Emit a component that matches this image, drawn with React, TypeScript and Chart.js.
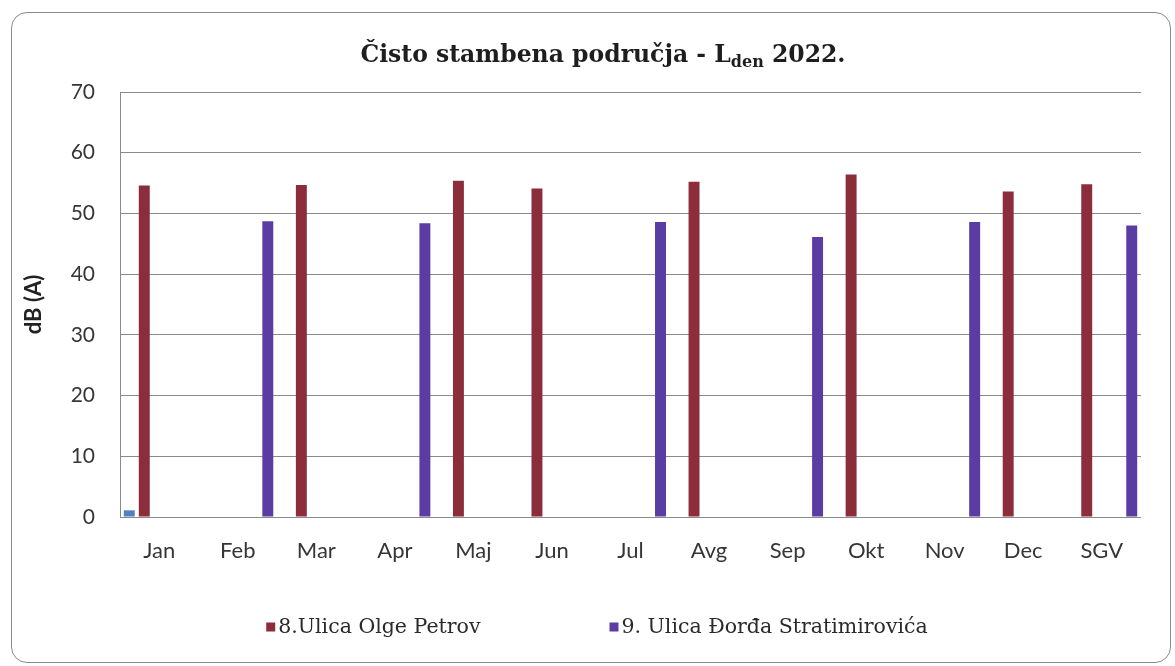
import React, { useEffect, useRef } from 'react';
import { Chart, registerables } from 'chart.js';

Chart.register(...registerables);

// ---- data ----
const categories = ['Jan', 'Feb', 'Mar', 'Apr', 'Maj', 'Jun', 'Jul', 'Avg', 'Sep', 'Okt', 'Nov', 'Dec', 'SGV'];
const series1Values = [1.1, null, null, null, null, null, null, null, null, null, null, null, null];
const olgePetrovValues = [54.6, null, 54.7, null, 55.4, 54.1, null, 55.2, null, 56.4, null, 53.6, 54.8];
const stratimirovicaValues = [null, 48.7, null, 48.4, null, null, 48.6, null, 46.1, null, 48.6, null, 48.0];
const emptyValues: (number | null)[] = [];
const seriesNames = ['8.Ulica Olge Petrov', '9. Ulica Đorđa Stratimirovića'];
const yTickMin = 0;
const yTickMax = 70;
const yTickStep = 10;
const titleMain = 'Čisto stambena područja - L';
const titleSub = 'den';
const titleEnd = ' 2022.';
const yAxisTitle = 'dB (A)';

// ---- styles ----
const RED = '#8c2d3c';
const BLUE = '#5a3ca3';
const LIGHT_BLUE = '#4f81bd';
const GRID = '#8a8a8a';
const TEXT = '#363636';

const titlePlugin = {
  id: 'titleWithSubscript',
  afterDraw(chart: any) {
    const ctx = chart.ctx;
    ctx.save();
    const mainFont = 'bold 23.5px "DejaVu Serif"';
    const subFont = 'bold 16px "DejaVu Serif"';
    ctx.font = mainFont;
    const w1 = ctx.measureText(titleMain).width;
    const w3 = ctx.measureText(titleEnd).width;
    ctx.font = subFont;
    const w2 = ctx.measureText(titleSub).width;
    const total = w1 + w2 + w3;
    let x = chart.width / 2 + 12 - total / 2;
    const y = 49;
    ctx.fillStyle = '#1e1e1e';
    ctx.textAlign = 'left';
    ctx.textBaseline = 'alphabetic';
    ctx.font = mainFont;
    ctx.fillText(titleMain, x, y);
    x += w1;
    ctx.font = subFont;
    ctx.fillText(titleSub, x, y + 5);
    x += w2;
    ctx.font = mainFont;
    ctx.fillText(titleEnd, x, y);
    ctx.restore();
  },
};

const legendPlugin = {
  id: 'spreadLegend',
  afterDraw(chart: any) {
    const ctx = chart.ctx;
    const items = chart.data.datasets.filter((d: any) => seriesNames.includes(d.label));
    ctx.save();
    ctx.font = '20.5px "DejaVu Serif"';
    const box = 9;
    const boxGap = 3;
    const itemGap = 129;
    const widths = items.map((d: any) => box + boxGap + ctx.measureText(d.label).width);
    const total = widths.reduce((a: number, b: number) => a + b, 0) + itemGap * (items.length - 1);
    let x = chart.width / 2 + 6 - total / 2;
    const y = 614;
    ctx.textAlign = 'left';
    ctx.textBaseline = 'middle';
    items.forEach((d: any, i: number) => {
      ctx.fillStyle = d.backgroundColor;
      ctx.fillRect(x, y - box / 2, box, box);
      ctx.fillStyle = '#2a2a2a';
      ctx.fillText(d.label, x + box + boxGap, y + 1);
      x += widths[i] + itemGap;
    });
    ctx.restore();
  },
};

export default function App() {
  const canvasRef = useRef<HTMLCanvasElement | null>(null);

  useEffect(() => {
    if (!canvasRef.current) return;
    const chart = new Chart(canvasRef.current, {
      type: 'bar',
      data: {
        labels: categories,
        datasets: [
          { label: 'Series 1', data: series1Values, backgroundColor: LIGHT_BLUE },
          { label: seriesNames[0], data: olgePetrovValues, backgroundColor: RED },
          { label: 'spacer-a', data: emptyValues, backgroundColor: 'rgba(0,0,0,0)' },
          { label: 'spacer-b', data: emptyValues, backgroundColor: 'rgba(0,0,0,0)' },
          { label: seriesNames[1], data: stratimirovicaValues, backgroundColor: BLUE },
        ],
      },
      options: {
        animation: false,
        responsive: true,
        maintainAspectRatio: false,
        layout: { padding: { top: 79, right: 29, bottom: 0, left: 0 } },
        datasets: {
          bar: { categoryPercentage: 0.955, barPercentage: 0.73 },
        },
        plugins: {
          legend: { display: false },
          title: { display: false },
          tooltip: { enabled: false },
        },
        scales: {
          x: {
            grid: { display: false, drawTicks: false },
            border: { display: false },
            ticks: {
              padding: 21,
              color: TEXT,
              font: { family: 'Lato', size: 22 },
              maxRotation: 0,
              autoSkip: false,
            },
            afterFit: (s: any) => {
              s.height = 145;
            },
          },
          y: {
            min: yTickMin,
            max: yTickMax,
            ticks: {
              stepSize: yTickStep,
              padding: 25,
              color: TEXT,
              font: { family: 'Lato', size: 21 },
            },
            grid: { color: GRID, lineWidth: 1, drawTicks: false },
            border: { display: true, color: GRID, width: 1 },
            title: {
              display: true,
              text: yAxisTitle,
              color: '#222',
              font: { family: 'Lato', size: 22, weight: 'bold' },
              padding: { top: 9, bottom: 0 },
            },
            afterFit: (s: any) => {
              s.width = 108;
            },
          },
        },
      },
      plugins: [titlePlugin, legendPlugin],
    });
    return () => chart.destroy();
  }, []);

  return (
    <div
      style={{
        position: 'absolute',
        left: 11,
        top: 12,
        width: 1160,
        height: 651,
        boxSizing: 'border-box',
        border: '1px solid #8a8a8a',
        borderRadius: 16,
        background: '#ffffff',
        overflow: 'hidden',
      }}
    >
      <div style={{ position: 'relative', width: '100%', height: '100%' }}>
        <canvas ref={canvasRef} />
      </div>
    </div>
  );
}
